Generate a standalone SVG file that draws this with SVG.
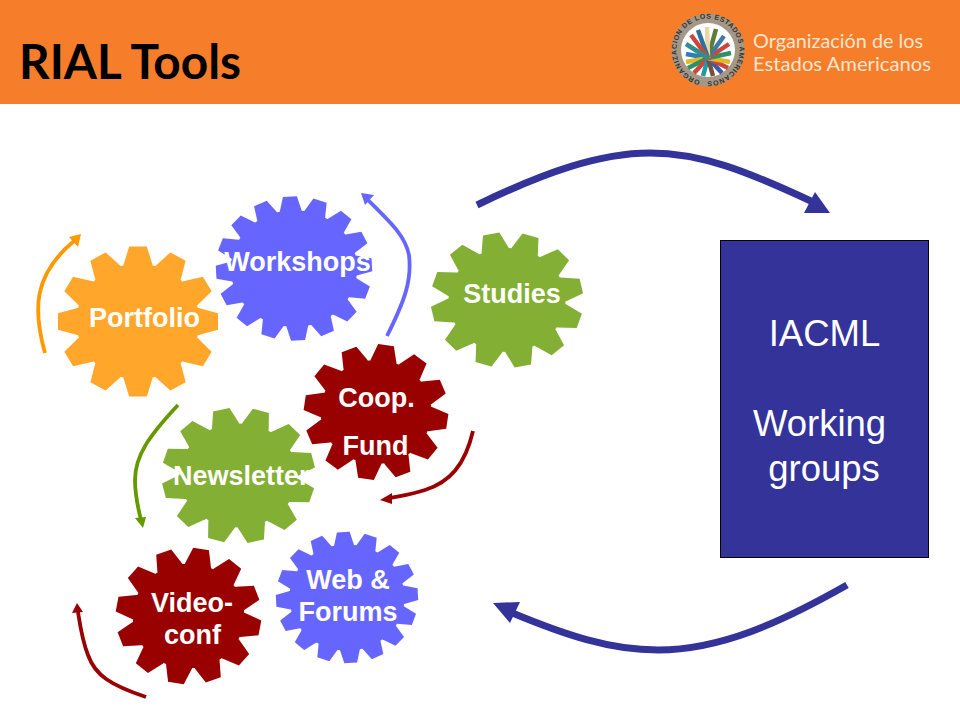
<svg xmlns="http://www.w3.org/2000/svg" xmlns:xlink="http://www.w3.org/1999/xlink" width="960" height="720" viewBox="0 0 960 720">
<style>
.lbl{font-family:"Liberation Sans",Arial,sans-serif;font-weight:700;font-size:27px;fill:#fff;text-anchor:middle}
.box{font-family:"Liberation Sans",Arial,sans-serif;font-size:36.5px;fill:#fff;text-anchor:middle}
.org{font-family:"Lato","Noto Sans",sans-serif;font-size:19px;fill:#FFE6D0}
.c{fill:none;stroke-linecap:butt}
.big{stroke:#333399;stroke-width:7}
.f{stroke-width:3.8}
.orange{fill:#FFA62B}.violet{fill:#6666FF}.green{fill:#84AF35}.red{fill:#990000}
.fl{stroke-width:4.5;fill:none}
</style>
<defs>
<polygon id="t12" points="-11,-100 11,-100 18,-76 18,-60 -18,-60 -18,-76"/>
<polygon id="t16" points="-9,-100 9,-100 14,-80 14,-65 -14,-65 -14,-80"/>
<g id="gear12"><circle r="77"/>
<use href="#t12"/><use href="#t12" transform="rotate(30)"/><use href="#t12" transform="rotate(60)"/><use href="#t12" transform="rotate(90)"/><use href="#t12" transform="rotate(120)"/><use href="#t12" transform="rotate(150)"/><use href="#t12" transform="rotate(180)"/><use href="#t12" transform="rotate(210)"/><use href="#t12" transform="rotate(240)"/><use href="#t12" transform="rotate(270)"/><use href="#t12" transform="rotate(300)"/><use href="#t12" transform="rotate(330)"/>
</g>
<g id="gear16"><circle r="81"/>
<use href="#t16"/><use href="#t16" transform="rotate(22.5)"/><use href="#t16" transform="rotate(45)"/><use href="#t16" transform="rotate(67.5)"/><use href="#t16" transform="rotate(90)"/><use href="#t16" transform="rotate(112.5)"/><use href="#t16" transform="rotate(135)"/><use href="#t16" transform="rotate(157.5)"/><use href="#t16" transform="rotate(180)"/><use href="#t16" transform="rotate(202.5)"/><use href="#t16" transform="rotate(225)"/><use href="#t16" transform="rotate(247.5)"/><use href="#t16" transform="rotate(270)"/><use href="#t16" transform="rotate(292.5)"/><use href="#t16" transform="rotate(315)"/><use href="#t16" transform="rotate(337.5)"/>
</g>
<path id="ring" d="M708,81.500 a31.500,31.500 0 1 1 0.01,0"/>
</defs>

<rect width="960" height="720" fill="#fff"/>
<g id="header">
<rect width="960" height="104" fill="#F67D29"/>
<text x="19" y="79" font-family="Lato,'Noto Sans',sans-serif" font-weight="700" font-size="48" fill="#000" textLength="222" lengthAdjust="spacingAndGlyphs">RIAL Tools</text>
<g id="seal">
<circle cx="708" cy="50" r="36.500" fill="#A39787"/>
<circle cx="708" cy="50" r="27" fill="#fff"/>
<text font-family="'Liberation Sans',sans-serif" font-weight="700" font-size="7" fill="#3A3228" letter-spacing="0.6"><textPath href="#ring" startOffset="4%">ORGANIZACION DE LOS ESTADOS AMERICANOS</textPath></text>
<g class="fl">
<path d="M708,58 L686,54" stroke="#2E7DB5"/><path d="M708,58 L686,62" stroke="#E0B92A"/><path d="M708,58 L688,68" stroke="#2E8F6B"/><path d="M708,58 L694,73" stroke="#C9483A"/><path d="M708,58 L703,76" stroke="#1F9AA8"/><path d="M708,58 L713,76" stroke="#7A4F3A"/><path d="M708,58 L722,73" stroke="#3C5AA8"/><path d="M708,58 L728,68" stroke="#C9483A"/><path d="M708,58 L730,62" stroke="#E0B92A"/><path d="M708,58 L731,53" stroke="#2E8F6B"/><path d="M708,58 L729,44" stroke="#C9483A"/><path d="M708,58 L724,36" stroke="#3C7AA8"/><path d="M708,58 L716,29" stroke="#5D7D3A"/><path d="M708,58 L707,27" stroke="#E8D8A8"/><path d="M708,58 L698,30" stroke="#2E6FA0"/><path d="M708,58 L691,35" stroke="#C9483A"/><path d="M708,58 L686,44" stroke="#2E8F8F"/>
</g>
</g>
<text class="org" x="753" y="48" textLength="170" lengthAdjust="spacingAndGlyphs">Organización de los</text>
<text class="org" x="753" y="71" textLength="178" lengthAdjust="spacingAndGlyphs">Estados Americanos</text>
</g>

<g id="connectors">
<path class="c big" d="M477,205 C545,172 600,153 650,153 C700,153 745,170 815,203"/>
<polygon points="815,192 830,213 804,213" fill="#333399"/>
<path class="c big" d="M847,585 C780,623 720,650 658,650 C610,650 565,635 510,612"/>
<polygon points="493,603 520,602 510,623" fill="#333399"/>
<path class="c f" stroke="#FF9900" d="M45,353 C33,310 33,275 74,241"/>
<polygon points="69,237 81,234 78,247" fill="#FF9900"/>
<path class="c f" stroke="#6666FF" d="M387,336 C405,300 412,280 409,255 C405,235 390,222 367,199"/>
<polygon points="361,193 374,195 365,205" fill="#6666FF"/>
<path class="c f" stroke="#669900" d="M178,405 C150,435 135,455 135,480 C135,495 138,508 141,520"/>
<polygon points="135,518 146,517 143,528" fill="#669900"/>
<path class="c f" stroke="#990000" d="M473,431 C465,465 450,482 425,490 C410,495 400,496 390,498"/>
<polygon points="392,493 380,500 392,504" fill="#990000"/>
<path class="c f" stroke="#990000" d="M146,697 C110,685 95,675 88,655 C82,640 80,625 78,612"/>
<polygon points="72,613 77,603 83,612" fill="#990000"/>
</g>

<g id="portfolio"><use href="#gear12" class="orange" transform="translate(138 321.5) scale(.8 .75)"/><text class="lbl" x="144.500" y="327">Portfolio</text></g>
<g id="workshops"><use href="#gear16" class="violet" transform="translate(294 268.5) scale(.78 .72) rotate(-3)"/><text class="lbl" x="297.500" y="271">Workshops</text></g>
<g id="studies"><use href="#gear12" class="green" transform="translate(507 300) scale(.76 .675) rotate(-12)"/><text class="lbl" x="512" y="303">Studies</text></g>
<g id="coop-fund"><use href="#gear12" class="red" transform="translate(376 412) scale(.72 .675) rotate(8)"/><text class="lbl" x="376.500" y="407">Coop.</text><text class="lbl" x="375.500" y="455">Fund</text></g>
<g id="newsletter"><use href="#gear12" class="green" transform="translate(238.500 475.500) scale(.765 .675) rotate(-13)"/><text class="lbl" x="173" y="485" style="text-anchor:start">Newsletter</text></g>
<g id="video-conf"><use href="#gear12" class="red" transform="translate(188.500 616) scale(.725 .68) rotate(10)"/><text class="lbl" x="192" y="612">Video-</text><text class="lbl" x="192.500" y="644">conf</text></g>
<g id="web-forums"><use href="#gear16" class="violet" transform="translate(347 597.500) scale(.71 .655) rotate(-3)"/><text class="lbl" x="348" y="589">Web &amp;</text><text class="lbl" x="348" y="621">Forums</text></g>

<g id="iacml">
<rect x="720.500" y="240.500" width="208" height="317" fill="#333399" stroke="#000" stroke-width="1"/>
<text class="box" x="824.500" y="346">IACML</text>
<text class="box" x="819.500" y="436">Working</text>
<text class="box" x="824" y="481">groups</text>
</g>
</svg>
